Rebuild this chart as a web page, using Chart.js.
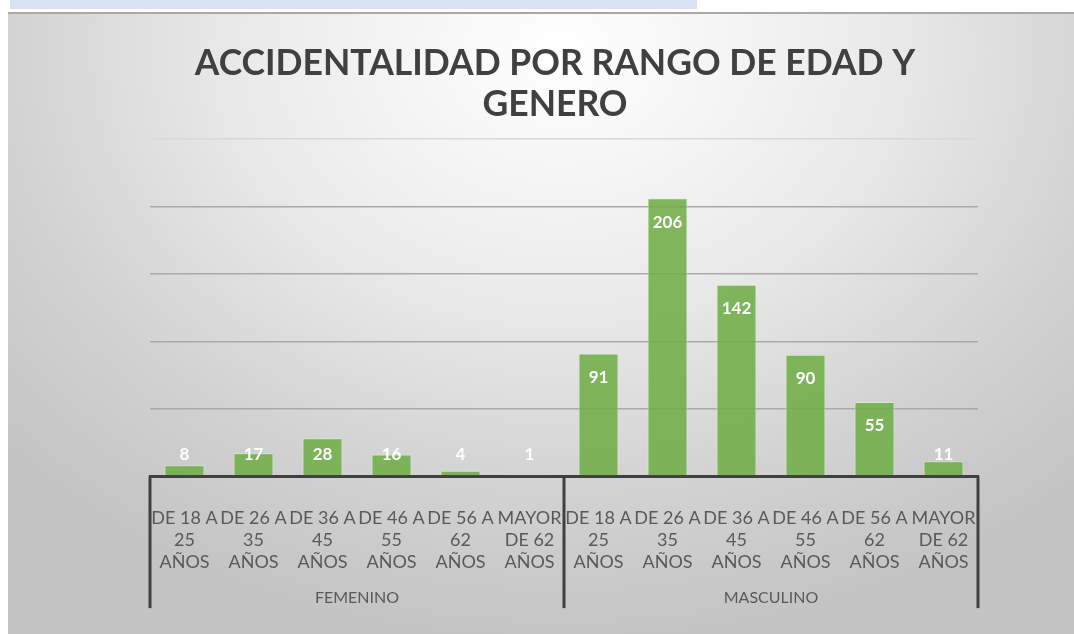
<!DOCTYPE html>
<html>
<head>
<meta charset="utf-8">
<script src="https://cdn.jsdelivr.net/npm/chart.js@4.4.1/dist/chart.umd.min.js"></script>
<style>
  html, body { margin: 0; padding: 0; background: #ffffff; }
  body { width: 1074px; height: 634px; position: relative; overflow: hidden; }
  #strip { position: absolute; left: 10px; top: 0; width: 687px; height: 9px; background: #d9e2f3; }
  #box {
    position: absolute; left: 8px; top: 12px; width: 1066px; height: 622px;
    border-top: 2px solid #a9a9a9; box-sizing: border-box;
    background: radial-gradient(ellipse 70% 95% at 52% 6%, #ffffff 0%, #ececec 40%, #d2d2d2 75%, #c4c4c4 100%);
  }
</style>
</head>
<body>
<div id="strip"></div>
<div id="box"><canvas id="chart"></canvas></div>
<script>
// datos
const titleLines = ['ACCIDENTALIDAD POR RANGO DE EDAD Y', 'GENERO'];
const groups = ['FEMENINO', 'MASCULINO'];
const ageRanges = [
  ['DE 18 A', '25', 'AÑOS'],
  ['DE 26 A', '35', 'AÑOS'],
  ['DE 36 A', '45', 'AÑOS'],
  ['DE 46 A', '55', 'AÑOS'],
  ['DE 56 A', '62', 'AÑOS'],
  ['MAYOR', 'DE 62', 'AÑOS']
];
const femenino = [8, 17, 28, 16, 4, 1];
const masculino = [91, 206, 142, 90, 55, 11];
const yTicks = [0, 50, 100, 150, 200, 250];

const labels = ageRanges.concat(ageRanges);
const values = femenino.concat(masculino);

const textFont = 'Lato, "Open Sans", sans-serif';

// etiquetas blancas arriba de cada barra
const barLabels = {
  id: 'barLabels',
  afterDatasetsDraw(chart) {
    const ctx = chart.ctx;
    const meta = chart.getDatasetMeta(0);
    const base = chart.scales.y.getPixelForValue(0);
    ctx.save();
    ctx.fillStyle = '#ffffff';
    ctx.font = 'bold 17px ' + textFont;
    ctx.textAlign = 'center';
    ctx.textBaseline = 'middle';
    meta.data.forEach((bar, i) => {
      const y = Math.min(bar.y + 24, base - 22);
      ctx.fillText(values[i], bar.x, y);
    });
    ctx.restore();
  }
};

// titulo, grupos y separadores del eje
const extras = {
  id: 'extras',
  afterDraw(chart) {
    const ctx = chart.ctx;
    const x = chart.scales.x;
    const base = chart.scales.y.getPixelForValue(0);
    ctx.save();
    ctx.fillStyle = '#404040';
    ctx.font = 'bold 35.5px ' + textFont;
    ctx.textAlign = 'center';
    ctx.textBaseline = 'middle';
    titleLines.forEach((t, i) => ctx.fillText(t, 547, 50 + i * 41));

    const n = ageRanges.length;
    const step = x.getPixelForValue(1) - x.getPixelForValue(0);
    const edges = [x.getPixelForValue(0) - step / 2, x.getPixelForValue(n) - step / 2, x.getPixelForValue(2 * n - 1) + step / 2];
    ctx.strokeStyle = '#404040';
    ctx.lineWidth = 3;
    edges.forEach(px => {
      ctx.beginPath();
      ctx.moveTo(px, base);
      ctx.lineTo(px, base + 132);
      ctx.stroke();
    });
    ctx.fillStyle = '#595959';
    ctx.font = '16px ' + textFont;
    groups.forEach((g, i) => ctx.fillText(g, (edges[i] + edges[i + 1]) / 2, base + 122));
    ctx.restore();
  }
};

const chart = new Chart(document.getElementById('chart'), {
  type: 'bar',
  data: {
    labels: labels,
    datasets: [{
      data: values,
      backgroundColor: 'rgba(112, 173, 71, 0.88)',
      borderColor: 'rgba(220, 240, 210, 0.7)',
      borderWidth: 1,
      categoryPercentage: 1,
      barPercentage: 0.58
    }]
  },
  options: {
    responsive: true,
    maintainAspectRatio: false,
    animation: false,
    layout: { padding: { left: 142, right: 96, top: 125, bottom: 30 } },
    plugins: {
      legend: { display: false },
      title: { display: false },
      tooltip: { enabled: false }
    },
    scales: {
      x: {
        grid: { display: false, drawTicks: false },
        border: { display: true, color: '#404040', width: 3 },
        ticks: {
          color: '#595959',
          font: { family: textFont, size: 18, lineHeight: 1.22 },
          padding: 31,
          maxRotation: 0,
          autoSkip: false
        }
      },
      y: {
        min: 0,
        max: 250,
        afterBuildTicks(axis) { axis.ticks = yTicks.map(v => ({ value: v })); },
        ticks: { display: false },
        border: { display: false },
        grid: {
          drawTicks: false,
          lineWidth: 1.5,
          color: c => c.tick.value === 250 ? '#d8d8d8' : '#a9a9a9'
        }
      }
    }
  },
  plugins: [barLabels, extras]
});
</script>
</body>
</html>
